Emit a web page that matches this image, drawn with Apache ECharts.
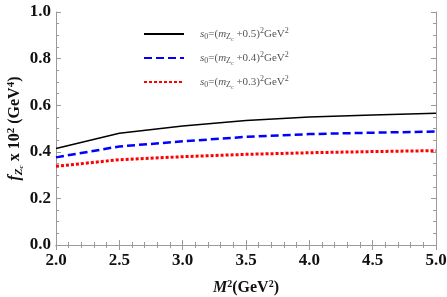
<!DOCTYPE html>
<html><head><meta charset="utf-8">
<script src="https://cdn.jsdelivr.net/npm/echarts@6/dist/echarts.min.js"></script>
<style>html,body{margin:0;padding:0;background:#fff}#c{width:447px;height:297px}</style>
</head><body><div id="c"></div>
<script>
var xValues = [2.0, 2.5, 3.0, 3.5, 4.0, 4.5, 5.0];
var seriesS05 = [0.414, 0.480, 0.511, 0.534, 0.549, 0.558, 0.565];
var seriesS04 = [0.376, 0.423, 0.445, 0.464, 0.476, 0.482, 0.487];
var seriesS03 = [0.338, 0.366, 0.379, 0.389, 0.396, 0.401, 0.405];
var seriesNames = ['s05', 's04', 's03'];
var legendTexts = {
  s05: '{i|s}{sub|0}{n|=(}{i|m}{sub|Z}{subsub|c}{n| +0.5)}{sup|2}{n|GeV}{sup|2}',
  s04: '{i|s}{sub|0}{n|=(}{i|m}{sub|Z}{subsub|c}{n| +0.4)}{sup|2}{n|GeV}{sup|2}',
  s03: '{i|s}{sub|0}{n|=(}{i|m}{sub|Z}{subsub|c}{n| +0.3)}{sup|2}{n|GeV}{sup|2}'
};

function pairs(vals){ return xValues.map(function(x,i){return [x, vals[i]];}); }

var serif = 'Liberation Serif, Times New Roman, serif';
var frame = '#9a9a9a';
var legendRich = {
  n: {fontFamily: serif, fontSize: 11, color: '#555', lineHeight: 16, verticalAlign: 'middle'},
  i: {fontFamily: serif, fontSize: 11, fontStyle: 'italic', color: '#555', lineHeight: 16},
  sub: {fontFamily: serif, fontSize: 8, color: '#555', lineHeight: 16, padding: [6,0,0,0]},
  subsub: {fontFamily: serif, fontSize: 6, color: '#555', lineHeight: 16, padding: [10,0,0,0]},
  sup: {fontFamily: serif, fontSize: 8, color: '#555', lineHeight: 16, padding: [0,0,6,0]}
};

var chart = echarts.init(document.getElementById('c'), null, {renderer: 'canvas'});
chart.setOption({
  animation: false,
  grid: {left: 56, right: 11, top: 12, bottom: 52, containLabel: false, outerBoundsMode: 'none'},
  legend: {
    orient: 'vertical', left: 143, top: 26, padding: 0, itemWidth: 40, itemHeight: 10, itemGap: 8,
    data: seriesNames,
    itemStyle: {opacity: 0},
    formatter: function(name){ return legendTexts[name]; },
    textStyle: {rich: legendRich, padding: [0,0,0,11]}
  },
  xAxis: [
    {type: 'value', min: 2.0, max: 5.0, interval: 0.5, position: 'bottom',
     name: '{i|M}{sup|2}{b|(GeV}{sup|2}{b|)}', nameLocation: 'middle', nameGap: 33, nameMoveOverlap: false,
     nameTextStyle: {rich: {
       i: {fontFamily: serif, fontSize: 16, fontWeight: 'bold', fontStyle: 'italic', color: '#111', lineHeight: 20},
       b: {fontFamily: serif, fontSize: 16, fontWeight: 'bold', color: '#111', lineHeight: 20},
       sup: {fontFamily: serif, fontSize: 10, fontWeight: 'bold', color: '#111', lineHeight: 20, padding: [0,0,8,0]}
     }},
     axisLine: {lineStyle: {color: frame, width: 1}},
     axisTick: {inside: true, length: 5, lineStyle: {color: frame}},
     minorTick: {show: true, splitNumber: 5, length: 3, lineStyle: {color: frame}},
     splitLine: {show: false},
     axisLabel: {fontFamily: serif, fontSize: 17, fontWeight: 'bold', color: '#111', margin: 7,
       formatter: function(v){ return v.toFixed(1); }}},
    {type: 'value', min: 2.0, max: 5.0, interval: 0.5, position: 'top',
     axisLine: {lineStyle: {color: frame, width: 1}},
     axisTick: {inside: true, length: 5, lineStyle: {color: frame}},
     minorTick: {show: true, splitNumber: 5, length: 3, lineStyle: {color: frame}},
     splitLine: {show: false}, axisLabel: {show: false}}
  ],
  yAxis: [
    {type: 'value', min: 0, max: 1.0, interval: 0.2, position: 'left',
     name: '{fi|f}{sub|Z}{subsub|c}{b| x 10}{sup|2}{b| (GeV}{sup|4}{b|)}', nameLocation: 'middle', nameGap: 30, nameRotate: 90,
     nameMoveOverlap: false,
     nameTextStyle: {rich: {
       fi: {fontFamily: serif, fontSize: 16, fontWeight: 'bold', fontStyle: 'italic', color: '#111', lineHeight: 22},
       b: {fontFamily: serif, fontSize: 16, fontWeight: 'bold', color: '#111', lineHeight: 22},
       sub: {fontFamily: serif, fontSize: 11, fontWeight: 'bold', fontStyle: 'italic', color: '#111', lineHeight: 22, padding: [8,0,0,0]},
       subsub: {fontFamily: serif, fontSize: 7, fontWeight: 'bold', fontStyle: 'italic', color: '#111', lineHeight: 22, padding: [13,0,0,0]},
       sup: {fontFamily: serif, fontSize: 11, fontWeight: 'bold', color: '#111', lineHeight: 22, padding: [0,0,8,0]}
     }},
     axisLine: {lineStyle: {color: frame, width: 1}},
     axisTick: {inside: true, length: 5, lineStyle: {color: frame}},
     minorTick: {show: true, splitNumber: 4, length: 3, lineStyle: {color: frame}},
     splitLine: {show: false},
     axisLabel: {fontFamily: serif, fontSize: 17, fontWeight: 'bold', color: '#111', margin: 5,
       formatter: function(v){ return v.toFixed(1); }}},
    {type: 'value', min: 0, max: 1.0, interval: 0.2, position: 'right',
     axisLine: {lineStyle: {color: frame, width: 1}},
     axisTick: {inside: true, length: 5, lineStyle: {color: frame}},
     minorTick: {show: true, splitNumber: 4, length: 3, lineStyle: {color: frame}},
     splitLine: {show: false}, axisLabel: {show: false}}
  ],
  series: [
    {name: 's05', type: 'line', data: pairs(seriesS05), showSymbol: false, symbol: 'none',
     lineStyle: {color: '#000', width: 1.5, type: 'solid'}, itemStyle: {color: '#000'}},
    {name: 's04', type: 'line', data: pairs(seriesS04), showSymbol: false, symbol: 'none',
     lineStyle: {color: '#0000ff', width: 2.5, type: [8, 4]}, itemStyle: {color: '#0000ff'}},
    {name: 's03', type: 'line', data: pairs(seriesS03), showSymbol: false, symbol: 'none',
     lineStyle: {color: '#ff0000', width: 3, type: [3, 2]}, itemStyle: {color: '#ff0000'}}
  ]
});
</script></body></html>
